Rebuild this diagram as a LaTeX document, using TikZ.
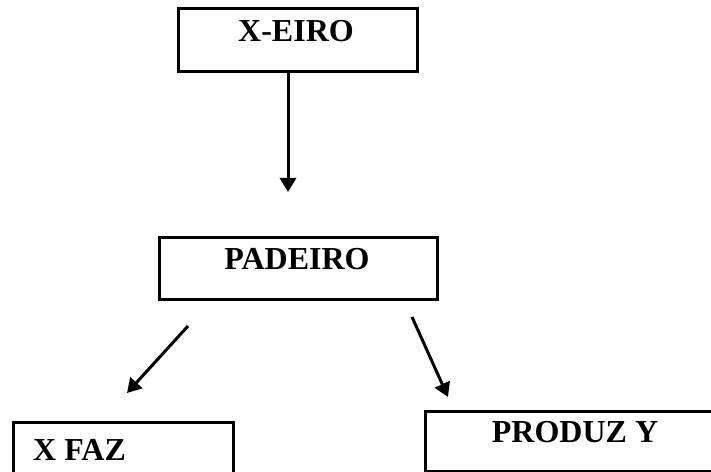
\documentclass[tikz,border=0pt]{standalone}
\usepackage{fontspec}
\setmainfont{Liberation Serif}
\usetikzlibrary{arrows.meta}
\begin{document}
\begin{tikzpicture}[x=1bp,y=-1bp,
  box/.style={draw,line width=3bp,rectangle,inner sep=0pt,anchor=north west},
  lbl/.style={font=\fontsize{32bp}{38bp}\selectfont\bfseries,inner sep=0pt},
  arr/.style={line width=3bp,-{Triangle[width=16bp,length=14bp]}}]
  \useasboundingbox (0,0) rectangle (711,472);
  % boxes
  \node[box,minimum width=239bp,minimum height=63bp] (xeiro) at (177,7) {};
  \node[box,minimum width=278bp,minimum height=62bp] (padeiro) at (158,236) {};
  \node[box,minimum width=220bp,minimum height=70bp] (xfaz) at (12,421) {};
  \node[box,minimum width=300bp,minimum height=60bp] (produz) at (424,410) {};
  % labels
  \node[lbl,anchor=base] (txeiro) at (296,42) {X-EIRO};
  \node[lbl,anchor=base] (tpadeiro) at (297,270) {PADEIRO};
  \node[lbl,anchor=base west] (txfaz) at (33,460) {X FAZ};
  \node[lbl,anchor=base] (tprodu) at (575,442) {PRODUZ Y};
  % arrow ends
  \coordinate (a1s) at (288,71);
  \coordinate (a1e) at (288,192);
  \coordinate (a2s) at (188,326);
  \coordinate (a2e) at (127,393);
  \coordinate (a3s) at (412,317);
  \coordinate (a3e) at (448,397);
  \draw[arr] (a1s) -- (a1e);
  \draw[arr] (a2s) -- (a2e);
  \draw[arr] (a3s) -- (a3e);
\end{tikzpicture}
\end{document}
